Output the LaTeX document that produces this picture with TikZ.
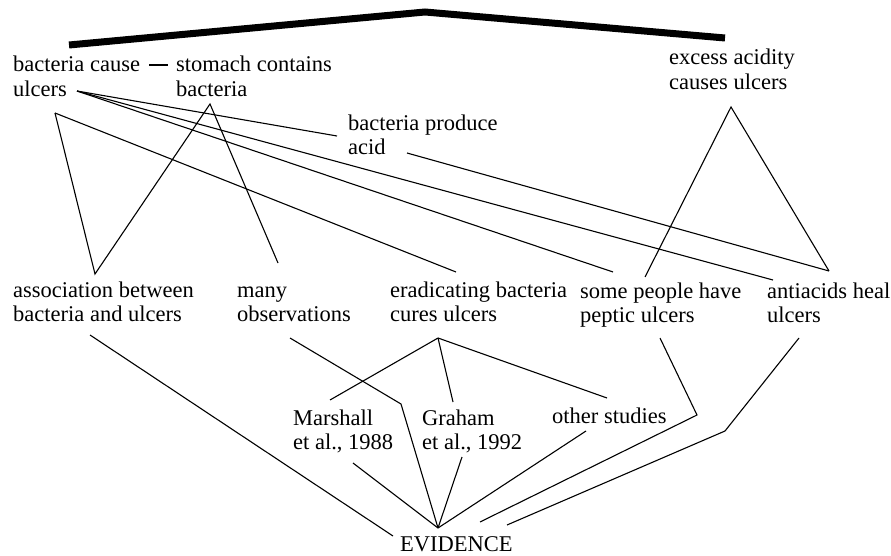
\documentclass[tikz,border=0pt]{standalone}
\usepackage{fontspec}
\setmainfont{Liberation Serif}
\begin{document}
\begin{tikzpicture}[x=1pt,y=-1pt,
  lbl/.style={font=\fontsize{22.5}{24.5}\selectfont, align=left, anchor=base west, inner sep=0pt},
  link/.style={draw=black, line width=1.1pt},
  thick link/.style={draw=black, line width=7pt, line join=miter}]
\useasboundingbox (0,0) rectangle (891,556);
% text nodes (anchor = baseline of the last line)
\node[lbl] (bcu) at (13,96.5) {bacteria cause\\ulcers};
\node[lbl] (scb) at (176,96.5) {stomach contains\\bacteria};
\node[lbl] (bpa) at (348,155) {bacteria produce\\acid};
\node[lbl] (eac) at (669,89.5) {excess acidity\\causes ulcers};
\node[lbl] (abu) at (13,321.5) {association between\\bacteria and ulcers};
\node[lbl] (mob) at (237,321.5) {many\\observations};
\node[lbl] (ebc) at (390,321.5) {eradicating bacteria\\cures ulcers};
\node[lbl] (spp) at (580,322.5) {some people have\\peptic ulcers};
\node[lbl] (ahu) at (767,322.5) {antiacids heal\\ulcers};
\node[lbl] (msh) at (293,449.5) {Marshall\\et al., 1988};
\node[lbl] (grh) at (422,449.5) {Graham\\et al., 1992};
\node[lbl] (ots) at (552,423) {other studies};
\node[lbl] (evd) at (400,551) {EVIDENCE};
% attachment points
\coordinate (bcu-l) at (69,45);
\coordinate (top) at (425,12);
\coordinate (eac-r) at (725,38);
\coordinate (bcu-e) at (149,65);
\coordinate (scb-w) at (168,65);
\coordinate (bcu-u) at (77,91);
\coordinate (bcu-s) at (55,113);
\coordinate (scb-s) at (210,104);
\coordinate (bpa-w) at (337,136);
\coordinate (bpa-e) at (407,153);
\coordinate (eac-s) at (731,107);
\coordinate (abu-n) at (95,274);
\coordinate (mob-n) at (278,263);
\coordinate (ebc-n) at (456,272);
\coordinate (spp-n) at (613,272);
\coordinate (spp-ne) at (645,277);
\coordinate (ahu-nw) at (773,280);
\coordinate (ahu-n) at (829,271);
\coordinate (abu-s) at (90,335);
\coordinate (mob-s) at (290,338);
\coordinate (mob-b) at (401,404);
\coordinate (ebc-s) at (438,338);
\coordinate (spp-s) at (660,338);
\coordinate (spp-b) at (697,415);
\coordinate (ahu-s) at (799,338);
\coordinate (ahu-b) at (725,431);
\coordinate (msh-n) at (330,400);
\coordinate (grh-n) at (453,402);
\coordinate (ots-n) at (607,398);
\coordinate (msh-s) at (353,463);
\coordinate (grh-s) at (462,457);
\coordinate (ots-s) at (586,431);
\coordinate (evd-n) at (438,528);
\coordinate (evd-l) at (393,536);
\coordinate (evd-a) at (480,522);
\coordinate (evd-b) at (507,525);
% thick contradiction line
\draw[thick link] (bcu-l) -- (top) -- (eac-r);
% co-hypothesis dash
\draw[link] (bcu-e) -- (scb-w);
% explanations from hypotheses
\draw[link] (bcu-u) -- (bpa-w);
\draw[link] (bcu-u) -- (ahu-nw);
\draw[link] (bcu-u) -- (spp-n);
\draw[link] (bpa-e) -- (ahu-n);
\draw[link] (bcu-s) -- (abu-n) -- (scb-s) -- (mob-n);
\draw[link] (bcu-s) -- (ebc-n);
\draw[link] (spp-ne) -- (eac-s) -- (ahu-n);
% evidence links
\draw[link] (abu-s) -- (evd-l);
\draw[link] (mob-s) -- (mob-b) -- (evd-n);
\draw[link] (ebc-s) -- (msh-n);
\draw[link] (ebc-s) -- (grh-n);
\draw[link] (ebc-s) -- (ots-n);
\draw[link] (msh-s) -- (evd-n);
\draw[link] (grh-s) -- (evd-n);
\draw[link] (ots-s) -- (evd-n);
\draw[link] (spp-s) -- (spp-b) -- (evd-a);
\draw[link] (ahu-s) -- (ahu-b) -- (evd-b);
\end{tikzpicture}
\end{document}
